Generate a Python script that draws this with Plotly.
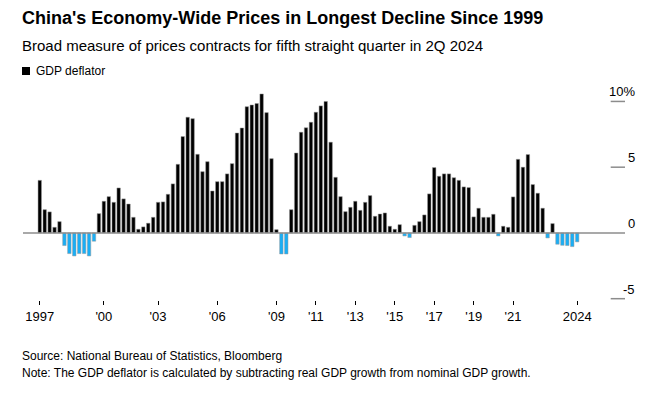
import plotly.graph_objects as go

# quarterly GDP deflator, % y/y, 1997Q1 .. 2024Q2
quarters = [f"{1997 + i // 4}Q{i % 4 + 1}" for i in range(110)]
deflator = [
    4.0, 1.77, 1.6, 0.43, 0.86, -0.96, -1.57, -1.75, -1.57, -1.57, -1.75, -0.63,
    1.47, 2.41, 2.76, 2.33, 3.42, 2.59, 2.2, 1.19, 0.28, 0.46, 0.74, 1.19,
    2.33, 2.36, 2.94, 3.73, 5.22, 7.33, 8.8, 8.69, 5.98, 4.66, 5.42, 3.19,
    3.9, 3.9, 4.49, 5.27, 7.6, 7.98, 9.6, 9.73, 9.84, 10.57, 9.15, 5.65,
    0.25, -1.6, -1.6, 1.77, 6.08, 7.66, 8.0, 8.42, 9.18, 9.66, 10.0, 6.9,
    4.23, 2.76, 1.62, 1.95, 2.41, 1.72, 2.33, 2.84, 1.27, 1.44, 1.52, 0.51,
    0.28, 0.63, -0.23, -0.35, 0.58, 0.86, 1.37, 2.97, 4.97, 4.31, 4.49, 4.49,
    4.2, 4.0, 3.5, 3.45, 1.22, 1.88, 1.19, 1.19, 1.42, -0.23, 0.51, 0.43,
    2.74, 5.6, 5.0, 5.96, 3.68, 3.02, 1.88, -0.38, 0.71, -0.86, -0.94, -0.96,
    -1.04, -0.68,
]
tick_quarters = ["1997Q1", "2000Q2", "2003Q1", "2006Q1", "2009Q1", "2011Q1",
                 "2013Q1", "2015Q1", "2017Q1", "2019Q1", "2021Q1", "2024Q2"]
tick_labels = ["1997", "'00", "'03", "'06", "'09", "'11", "'13", "'15",
               "'17", "'19", "'21", "2024"]
y_ticks = [10, 5, 0, -5]
y_labels = ["10%", "5", "0", "-5"]

idx = list(range(len(quarters)))
colors = ["#000000" if v >= 0 else "#1aaef5" for v in deflator]
tickvals = [quarters.index(q) for q in tick_quarters]

# page offset (body margin) compensation
OFF = 8
L, R, T, B = 23 - OFF, 625 - OFF, 90 - OFF, 300 - OFF
PW, PH = R - L, B - T

fig = go.Figure(go.Bar(x=idx, y=deflator, marker_color=colors,
                       marker_line_color="#9a9a9a", marker_line_width=0.5))

x0, x1 = -3.4, 118.7
shapes = [dict(type="line", xref="x", yref="y", x0=x0, x1=x1, y0=0, y1=0,
               line=dict(color="#8c8c8c", width=1.5), layer="above")]
for v in y_ticks:
    if v != 0:
        shapes.append(dict(type="line", xref="x", yref="y", x0=115.8, x1=x1,
                           y0=v, y1=v, line=dict(color="#8c8c8c", width=1.5)))

annotations = []
for v, t in zip(y_ticks, y_labels):
    annotations.append(dict(x=(637 - OFF - L) / PW, xref="paper", y=v, yref="y",
                            text=t, showarrow=False, xanchor="right", yanchor="bottom",
                            font=dict(size=13, color="#000")))

def paper_text(px, py, text, size, bold=False):
    return dict(xref="paper", yref="paper", x=(px - OFF - L) / PW,
                y=(B - (py - OFF)) / PH,
                text=f"<b>{text}</b>" if bold else text, showarrow=False,
                xanchor="left", yanchor="middle", font=dict(size=size, color="#000"))

annotations += [
    paper_text(20, 18, "China's Economy-Wide Prices in Longest Decline Since 1999", 18, True),
    paper_text(20, 45, "Broad measure of prices contracts for fifth straight quarter in 2Q 2024", 15),
    paper_text(34, 71, "GDP deflator", 12),
    paper_text(20, 356, "Source: National Bureau of Statistics, Bloomberg", 12),
    paper_text(20, 373, "Note: The GDP deflator is calculated by subtracting real GDP growth from nominal GDP growth.", 12),
]
shapes.append(dict(type="rect", xref="paper", yref="paper",
                   x0=(22 - OFF - L) / PW, x1=(30 - OFF - L) / PW,
                   y0=(B - (75 - OFF)) / PH, y1=(B - (67 - OFF)) / PH,
                   fillcolor="#000", line=dict(width=0)))

fig.update_layout(
    width=657, height=401, margin=dict(l=L, r=657 - R, t=T, b=401 - B),
    paper_bgcolor="white", plot_bgcolor="white", showlegend=False,
    bargap=0.3, font=dict(family="Liberation Sans, Arial, sans-serif", color="#000"),
    xaxis=dict(range=[x0, x1], tickvals=tickvals, ticktext=tick_labels,
               ticks="outside", ticklen=4, tickcolor="#000", showgrid=False,
               zeroline=False, showline=False, tickfont=dict(size=13)),
    yaxis=dict(range=[-5.1, 10.87], showticklabels=False, showgrid=False,
               zeroline=False),
    shapes=shapes, annotations=annotations,
)
fig.write_html("out.html")
